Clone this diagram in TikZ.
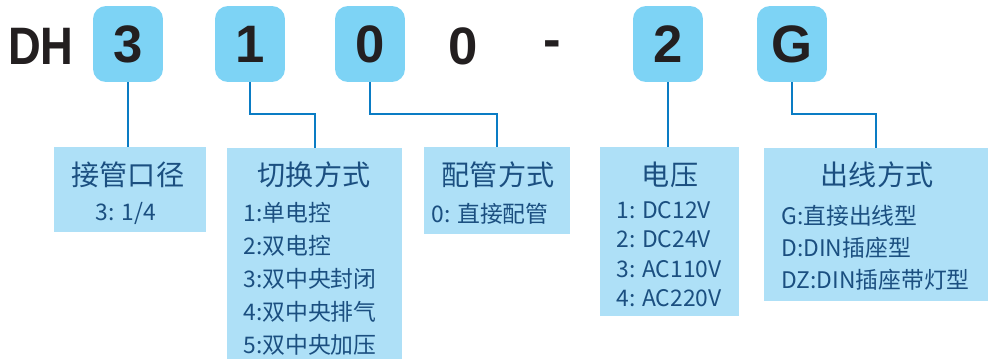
\documentclass[tikz,border=0pt]{standalone}
\usepackage{fontspec}
\setmainfont{Liberation Sans}
\newfontfamily\cjk{Noto Sans CJK SC}
\newfontfamily\narrowsans[FakeStretch=0.86]{Liberation Sans}
\usetikzlibrary{positioning}
\definecolor{keyfill}{HTML}{7DD3F5}
\definecolor{tagfill}{HTML}{AEE0F7}
\definecolor{linkblue}{HTML}{0A7CC4}
\definecolor{tagtext}{HTML}{1B4F80}
\definecolor{codetext}{HTML}{231F20}
\begin{document}
\begin{tikzpicture}[x=0.02cm,y=-0.02cm,
    code/.style={font=\fontsize{30}{30}\selectfont\bfseries,text=codetext},
    key/.style={code,fill=keyfill,rounded corners=0.26cm,minimum width=1.4cm,minimum height=1.52cm},
    tag/.style={fill=tagfill,anchor=north west,inner sep=0pt},
    head/.style={font=\cjk\fontsize{16}{16}\selectfont,text=tagtext},
    item/.style={font=\cjk\fontsize{13}{18.8}\selectfont,text=tagtext,align=left,inner sep=0pt},
    link/.style={draw=linkblue,line width=1.1pt}]
  \useasboundingbox (0,0) rectangle (988,359);
  \node[code,font=\narrowsans\fontsize{30}{30}\selectfont\bfseries] (dh) at (41,46) {DH};
  \node[key] (k3) at (128,44) {3};
  \node[key] (k1) at (250,44) {1};
  \node[key] (k0) at (370,44) {0};
  \node[code] (n0) at (463,46) {0};
  \node[code] (dash) at (552,49) {-};
  \node[key] (k2) at (668,44) {2};
  \node[key] (kg) at (792,44) {G};
  \node[tag,minimum width=3.04cm,minimum height=1.7cm] (t1) at (54,147) {};
  \node[tag,minimum width=3.5cm,minimum height=4.22cm] (t2) at (227,148) {};
  \node[tag,minimum width=2.92cm,minimum height=1.74cm] (t3) at (424,147) {};
  \node[tag,minimum width=2.78cm,minimum height=3.38cm] (t4) at (600,147) {};
  \node[tag,minimum width=4.48cm,minimum height=3.06cm] (t5) at (764,148) {};
  \node[head] (h1) at (128,175) {接管口径};
  \node[head] (h2) at (314,175) {切换方式};
  \node[head] (h3) at (498,175) {配管方式};
  \node[head] (h4) at (670,175) {电压};
  \node[head] (h5) at (877,175) {出线方式};
  \node[item] (i1) at (126,213) {3: 1/4};
  \node[item,anchor=north west] (i2) at (243,202) {1:单电控\\2:双电控\\3:双中央封闭\\4:双中央排气\\5:双中央加压};
  \node[item] (i3) at (490,214) {0: 直接配管};
  \node[item,anchor=north west,font=\cjk\fontsize{13}{16.8}\selectfont] (i4) at (616,201) {1: DC12V\\2: DC24V\\3: AC110V\\4: AC220V};
  \node[item,anchor=north west,font=\cjk\fontsize{13}{18.3}\selectfont] (i5) at (781,205) {G:直接出线型\\D:DIN插座型\\DZ:DIN插座带灯型};
  \draw[link] (k3.south) -- (k3.south |- t1.north);
  \draw[link] (k1.south) -- ++(0,32) -| (t2.north);
  \draw[link] (k0.south) -- ++(0,32) -| (t3.north);
  \draw[link] (k2.south) -- (k2.south |- t4.north);
  \draw[link] (kg.south) -- ++(0,32) -| (t5.north);
\end{tikzpicture}
\end{document}
